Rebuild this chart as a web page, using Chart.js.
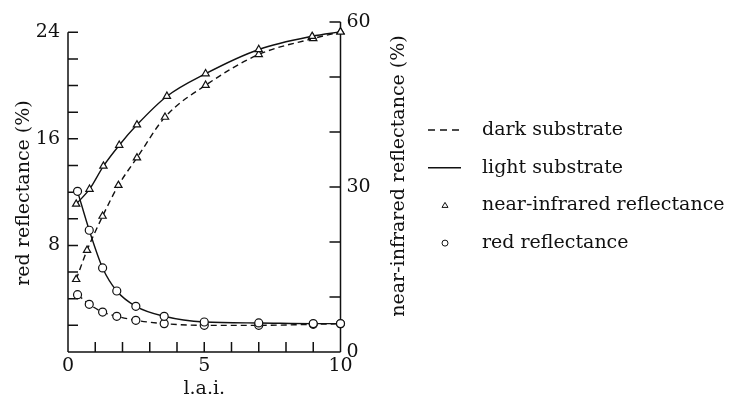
<!DOCTYPE html>
<html>
<head>
<meta charset="utf-8">
<script src="https://cdn.jsdelivr.net/npm/chart.js@4"></script>
<style>
  html, body { margin: 0; padding: 0; background: #fff; }
  #wrap { width: 736px; height: 400px; }
</style>
</head>
<body>
<div id="wrap"><canvas id="laiChart" width="736" height="400"></canvas></div>
<script>
/* leaf area index vs red / near-infrared reflectance */

// near-infrared reflectance (%), right axis
const laiNirLight = [0.3, 0.79, 1.3, 1.88, 2.53, 3.63, 5.05, 7.0, 8.96, 10];
const nirLight    = [26.9, 29.6, 33.8, 37.6, 41.3, 46.5, 50.6, 55.0, 57.4, 58.2];
const laiNirDark  = [0.3, 0.7, 1.27, 1.85, 2.53, 3.56, 5.05, 7.0, 9.0, 10];
const nirDark     = [13.2, 18.5, 24.7, 30.3, 35.3, 42.7, 48.5, 54.1, 57.0, 58.2];

// red reflectance (%), left axis
const laiRed   = [0.35, 0.78, 1.27, 1.79, 2.49, 3.53, 5.0, 7.0, 9.0, 10];
const redLight = [12.06, 9.14, 6.31, 4.58, 3.43, 2.68, 2.25, 2.18, 2.13, 2.13];
const redDark  = [4.3, 3.58, 3.0, 2.68, 2.38, 2.13, 2.0, 2.0, 2.08, 2.12];

// axis ticks
const xTicks     = [0, 1, 2, 3, 4, 5, 6, 7, 8, 9, 10];
const xLabels    = [0, 5, 10];
const redTicks   = [0, 2, 4, 6, 8, 10, 12, 14, 16, 18, 20, 22, 24];
const redLabels  = [8, 16, 24];
const nirTicks   = [0, 10, 20, 30, 40, 50, 60];
const nirLabels  = [0, 30, 60];

const legendItems = [
  { text: 'dark substrate', kind: 'dash' },
  { text: 'light substrate', kind: 'line' },
  { text: 'near-infrared reflectance', kind: 'triangle' },
  { text: 'red reflectance', kind: 'circle' }
];

const FONT = 'DejaVu Serif';
const INK = '#111';

const pts = (xs, ys) => xs.map((x, i) => ({ x, y: ys[i] }));

const series = (label, xs, ys, axis, dashed, style) => ({
  label,
  data: pts(xs, ys),
  yAxisID: axis,
  borderColor: INK,
  borderWidth: 1.4,
  borderDash: dashed ? [6, 4] : [],
  backgroundColor: '#fff',
  pointStyle: style,
  pointRadius: style === 'circle' ? 4 : 4.2,
  pointBorderWidth: 1.2,
  pointBorderColor: INK,
  pointBackgroundColor: '#fff',
  cubicInterpolationMode: 'monotone',
  fill: false,
  clip: false
});

// inward ticks, partial left axis, rotated titles and legend
const framePlugin = {
  id: 'frame',
  beforeDatasetsDraw(chart) {
    const { ctx, chartArea: a } = chart;
    const sx = chart.scales.x, yl = chart.scales.yL, yr = chart.scales.yR;
    ctx.save();
    ctx.strokeStyle = INK;
    ctx.lineWidth = 1.5;
    ctx.beginPath();
    // bottom axis
    ctx.moveTo(a.left, a.bottom); ctx.lineTo(a.right, a.bottom);
    // left axis only up to 24
    ctx.moveTo(a.left, yl.getPixelForValue(0)); ctx.lineTo(a.left, yl.getPixelForValue(24));
    // right axis full
    ctx.moveTo(a.right, yr.getPixelForValue(0)); ctx.lineTo(a.right, yr.getPixelForValue(60));
    xTicks.slice(1, -1).forEach(v => {
      const px = sx.getPixelForValue(v);
      ctx.moveTo(px, a.bottom); ctx.lineTo(px, a.bottom - 10);
    });
    redTicks.slice(1).forEach(v => {
      const py = yl.getPixelForValue(v);
      ctx.moveTo(a.left, py); ctx.lineTo(a.left + 10, py);
    });
    nirTicks.slice(1).forEach(v => {
      const py = yr.getPixelForValue(v);
      ctx.moveTo(a.right, py); ctx.lineTo(a.right - 11, py);
    });
    ctx.stroke();
    ctx.restore();
  },
  afterDraw(chart) {
    const { ctx } = chart;
    ctx.save();
    ctx.fillStyle = INK;
    ctx.font = `19px "${FONT}"`;
    ctx.textAlign = 'center';
    ctx.textBaseline = 'middle';

    ctx.save();
    ctx.translate(24, 193);
    ctx.rotate(-Math.PI / 2);
    ctx.fillText('red reflectance (%)', 0, 0);
    ctx.restore();

    ctx.save();
    ctx.translate(399, 176);
    ctx.rotate(-Math.PI / 2);
    ctx.fillText('near-infrared reflectance (%)', 0, 0);
    ctx.restore();

    // legend
    ctx.textAlign = 'left';
    ctx.strokeStyle = INK;
    legendItems.forEach((item, i) => {
      const y = 130 + i * 37.7;
      ctx.lineWidth = 1.4;
      if (item.kind === 'dash' || item.kind === 'line') {
        ctx.setLineDash(item.kind === 'dash' ? [7, 5] : []);
        ctx.beginPath();
        ctx.moveTo(428, y); ctx.lineTo(461, y);
        ctx.stroke();
        ctx.setLineDash([]);
      } else if (item.kind === 'triangle') {
        ctx.lineWidth = 1;
        ctx.beginPath();
        ctx.moveTo(445, y - 3); ctx.lineTo(448, y + 2); ctx.lineTo(442, y + 2);
        ctx.closePath();
        ctx.stroke();
      } else {
        ctx.lineWidth = 1;
        ctx.beginPath();
        ctx.arc(445, y, 3, 0, Math.PI * 2);
        ctx.stroke();
      }
      ctx.fillText(item.text, 482, y);
    });
    ctx.restore();
  }
};

new Chart(document.getElementById('laiChart'), {
  type: 'line',
  data: {
    datasets: [
      series('NIR light', laiNirLight, nirLight, 'yR', false, 'triangle'),
      series('NIR dark', laiNirDark, nirDark, 'yR', true, 'triangle'),
      series('red light', laiRed, redLight, 'yL', false, 'circle'),
      series('red dark', laiRed, redDark, 'yL', true, 'circle')
    ]
  },
  options: {
    responsive: false,
    animation: false,
    layout: { padding: { top: 22, left: 0, right: 0, bottom: 0 } },
    plugins: { legend: { display: false }, tooltip: { enabled: false } },
    scales: {
      x: {
        type: 'linear',
        min: 0, max: 10,
        grid: { display: false, drawTicks: false },
        border: { display: false },
        afterBuildTicks: s => { s.ticks = xTicks.map(v => ({ value: v })); },
        afterFit: s => { s.height = 48; },
        ticks: {
          autoSkip: false,
          maxRotation: 0,
          padding: 3,
          color: INK,
          font: { family: FONT, size: 19 },
          callback: v => xLabels.includes(v) ? String(v) : ''
        },
        title: {
          display: true,
          text: 'l.a.i.',
          color: INK,
          font: { family: FONT, size: 19 },
          padding: { top: 0, bottom: 0 }
        }
      },
      yL: {
        type: 'linear',
        position: 'left',
        min: 0, max: 24.77,
        grid: { display: false, drawTicks: false },
        border: { display: false },
        afterBuildTicks: s => { s.ticks = redTicks.map(v => ({ value: v })); },
        afterFit: s => { s.width = 68; },
        ticks: {
          autoSkip: false,
          padding: 8,
          color: INK,
          font: { family: FONT, size: 19 },
          callback: v => redLabels.includes(v) ? String(v) : ''
        }
      },
      yR: {
        type: 'linear',
        position: 'right',
        min: 0, max: 60,
        grid: { display: false, drawTicks: false },
        border: { display: false },
        afterBuildTicks: s => { s.ticks = nirTicks.map(v => ({ value: v })); },
        afterFit: s => { s.width = 395.5; },
        ticks: {
          autoSkip: false,
          padding: 6,
          color: INK,
          font: { family: FONT, size: 19 },
          callback: v => nirLabels.includes(v) ? String(v) : ''
        }
      }
    }
  },
  plugins: [framePlugin]
});
</script>
</body>
</html>
